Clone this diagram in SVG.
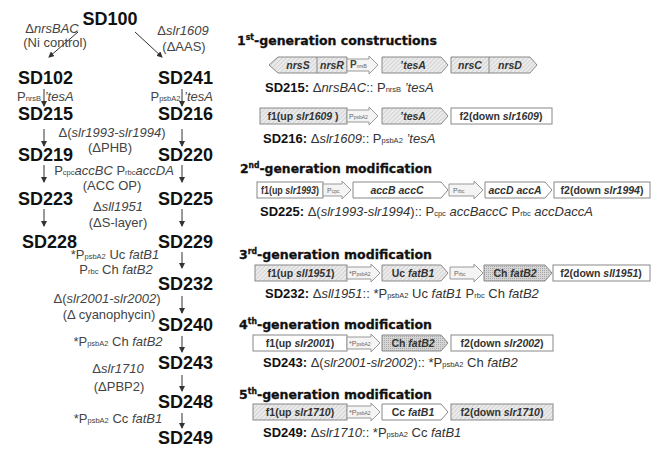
<svg xmlns="http://www.w3.org/2000/svg" width="652" height="449" viewBox="0 0 652 449">
<style>
.sd{font:bold 18px "Liberation Sans",Arial,sans-serif;fill:#111}
.ann{font:13px "Liberation Sans",Arial,sans-serif;fill:#444}
.hdr{font:bold 13px "DejaVu Sans",sans-serif;fill:#111;stroke:#111;stroke-width:0.3}
.cap{font:13px "Liberation Sans",Arial,sans-serif;fill:#333}
.capb{font-weight:bold;fill:#111}
.lbl{font:bold 10.5px "Liberation Sans",Arial,sans-serif;fill:#333;text-anchor:middle}
.pl{font:7px "Liberation Sans",Arial,sans-serif;fill:#666}
.sub{font-size:7.5px}
.i{font-style:italic}
.box{stroke:#888;stroke-width:1}
.wh{fill:#fff}
.ht{fill:url(#hatch)}
.dt{fill:url(#dots)}
.pr{fill:#f4f4f4;stroke:#999;stroke-width:1}
.con{stroke:#333;stroke-width:1;fill:none;marker-end:url(#ah)}
</style>
<defs>
<pattern id="hatch" width="3" height="3" patternUnits="userSpaceOnUse" patternTransform="rotate(45)">
<rect width="3" height="3" fill="#ececec"/>
<line x1="0" y1="0" x2="0" y2="3" stroke="#b8b8b8" stroke-width="1"/>
</pattern>
<pattern id="dots" width="2" height="2" patternUnits="userSpaceOnUse">
<rect width="2" height="2" fill="#d6d6d6"/>
<rect width="1" height="1" fill="#a8a8a8"/>
</pattern>
<marker id="ah" markerWidth="6" markerHeight="6" refX="5" refY="3" orient="auto" markerUnits="userSpaceOnUse">
<path d="M0,0 L6,3 L0,6 Z" fill="#333"/>
</marker>
</defs>

<g id="connectors">
<line class="con" x1="78" y1="32" x2="49" y2="57"/>
<line class="con" x1="135" y1="32" x2="162" y2="57"/>
<line class="con" x1="44" y1="89" x2="44" y2="106"/>
<line class="con" x1="182" y1="89" x2="182" y2="106"/>
<line class="con" x1="44" y1="129" x2="44" y2="146"/>
<line class="con" x1="182" y1="129" x2="182" y2="146"/>
<line class="con" x1="44" y1="165" x2="44" y2="182"/>
<line class="con" x1="182" y1="165" x2="182" y2="182"/>
<line class="con" x1="44" y1="209" x2="44" y2="226"/>
<line class="con" x1="182" y1="209" x2="182" y2="226"/>
<line class="con" x1="182" y1="252" x2="182" y2="268"/>
<line class="con" x1="182" y1="296" x2="182" y2="313"/>
<line class="con" x1="182" y1="336" x2="182" y2="352"/>
<line class="con" x1="182" y1="375" x2="182" y2="391"/>
<line class="con" x1="182" y1="413" x2="182" y2="428"/>
</g>

<g id="SD100"><text class="sd" x="110" y="25" text-anchor="middle">SD100</text></g>
<g id="SD102"><text class="sd" x="18" y="84">SD102</text></g>
<g id="SD241"><text class="sd" x="213" y="84" text-anchor="end">SD241</text></g>
<g id="SD215"><text class="sd" x="18" y="120">SD215</text></g>
<g id="SD216"><text class="sd" x="213" y="120" text-anchor="end">SD216</text></g>
<g id="SD219"><text class="sd" x="18" y="161">SD219</text></g>
<g id="SD220"><text class="sd" x="213" y="161" text-anchor="end">SD220</text></g>
<g id="SD223"><text class="sd" x="18" y="205">SD223</text></g>
<g id="SD225"><text class="sd" x="213" y="205" text-anchor="end">SD225</text></g>
<g id="SD228"><text class="sd" x="22" y="248">SD228</text></g>
<g id="SD229"><text class="sd" x="213" y="248" text-anchor="end">SD229</text></g>
<g id="SD232"><text class="sd" x="213" y="290" text-anchor="end">SD232</text></g>
<g id="SD240"><text class="sd" x="213" y="331" text-anchor="end">SD240</text></g>
<g id="SD243"><text class="sd" x="213" y="369" text-anchor="end">SD243</text></g>
<g id="SD248"><text class="sd" x="213" y="408" text-anchor="end">SD248</text></g>
<g id="SD249"><text class="sd" x="213" y="444" text-anchor="end">SD249</text></g>

<g id="left-labels" text-anchor="middle">
<text class="ann" x="52" y="33">Δ<tspan class="i">nrsBAC</tspan></text>
<text class="ann" x="55" y="47">(Ni control)</text>
<text class="ann" x="183" y="35">Δ<tspan class="i">slr1609</tspan></text>
<text class="ann" x="184" y="51">(ΔAAS)</text>
<text class="ann" x="17" y="101" text-anchor="start">P<tspan class="sub">nrsB</tspan> <tspan class="i">’tesA</tspan></text>
<text class="ann" x="213" y="101" text-anchor="end">P<tspan class="sub">psbA2</tspan> <tspan class="i">’tesA</tspan></text>
<text class="ann" x="112" y="137">Δ(<tspan class="i">slr1993-slr1994</tspan>)</text>
<text class="ann" x="110" y="152">(ΔPHB)</text>
<text class="ann" x="114" y="175">P<tspan class="sub">cpc</tspan><tspan class="i">accBC</tspan> P<tspan class="sub">rbc</tspan><tspan class="i">accDA</tspan></text>
<text class="ann" x="112" y="190">(ACC OP)</text>
<text class="ann" x="118" y="211">Δ<tspan class="i">sll1951</tspan></text>
<text class="ann" x="118" y="227">(ΔS-layer)</text>
<text class="ann" x="115" y="259">*P<tspan class="sub">psbA2</tspan> Uc <tspan class="i">fatB1</tspan></text>
<text class="ann" x="116" y="274">P<tspan class="sub">rbc</tspan> Ch <tspan class="i">fatB2</tspan></text>
<text class="ann" x="107" y="303">Δ(<tspan class="i">slr2001-slr2002</tspan>)</text>
<text class="ann" x="109" y="319">(Δ cyanophycin)</text>
<text class="ann" x="118" y="346">*P<tspan class="sub">psbA2</tspan> Ch <tspan class="i">fatB2</tspan></text>
<text class="ann" x="118" y="373">Δ<tspan class="i">slr1710</tspan></text>
<text class="ann" x="119" y="391">(ΔPBP2)</text>
<text class="ann" x="118" y="423">*P<tspan class="sub">psbA2</tspan> Cc <tspan class="i">fatB1</tspan></text>
</g>

<g id="headers">
<text class="hdr" x="237" y="45" textLength="200" lengthAdjust="spacingAndGlyphs">1<tspan font-size="8" dy="-5">st</tspan><tspan dy="5">-generation constructions</tspan></text>
<text class="hdr" x="240" y="173" textLength="192" lengthAdjust="spacingAndGlyphs">2<tspan font-size="8" dy="-5">nd</tspan><tspan dy="5">-generation modification</tspan></text>
<text class="hdr" x="239" y="259" textLength="193" lengthAdjust="spacingAndGlyphs">3<tspan font-size="8" dy="-5">rd</tspan><tspan dy="5">-generation modification</tspan></text>
<text class="hdr" x="239" y="329" textLength="193" lengthAdjust="spacingAndGlyphs">4<tspan font-size="8" dy="-5">th</tspan><tspan dy="5">-generation modification</tspan></text>
<text class="hdr" x="239" y="399" textLength="193" lengthAdjust="spacingAndGlyphs">5<tspan font-size="8" dy="-5">th</tspan><tspan dy="5">-generation modification</tspan></text>
</g>

<g id="construct-SD215">
<polygon class="box ht" points="269,65 278,57 347,57 347,73 278,73"/>
<line class="box" x1="317" y1="57" x2="317" y2="73"/>
<text class="lbl i" x="298" y="69">nrsS</text>
<text class="lbl i" x="332" y="69">nrsR</text>
<polygon class="pr" points="347,59 369,59 369,56 378,65 369,74 369,71 347,71"/>
<text class="pl" x="350" y="68"><tspan font-size="10" font-weight="bold" fill="#444">P</tspan><tspan font-size="5">nrsB</tspan></text>
<polygon class="box ht" points="382,57 441,57 448,65 441,73 382,73"/>
<text class="lbl i" x="413" y="69">’tesA</text>
<polygon class="box ht" points="451,57 530,57 537,65 530,73 451,73"/>
<line class="box" x1="489" y1="57" x2="489" y2="73"/>
<text class="lbl i" x="470" y="69">nrsC</text>
<text class="lbl i" x="510" y="69">nrsD</text>
<text class="cap" x="265" y="92"><tspan class="capb">SD215:</tspan> Δ<tspan class="i">nrsBAC</tspan>:: P<tspan class="sub">nrsB</tspan> <tspan class="i">’tesA</tspan></text>
</g>

<g id="construct-SD216">
<rect class="box ht" x="260" y="108" width="87" height="16"/>
<text class="lbl" x="303" y="120">f1(up <tspan class="i">slr1609</tspan> )</text>
<polygon class="pr" points="347,110 369,110 369,107 378,116 369,125 369,122 347,122"/>
<text class="pl" x="349" y="119">P<tspan font-size="5">psbA2</tspan></text>
<polygon class="box ht" points="382,108 441,108 448,116 441,124 382,124"/>
<text class="lbl i" x="413" y="120">’tesA</text>
<rect class="box wh" x="451" y="108" width="101" height="16"/>
<text class="lbl" x="501" y="120">f2(down <tspan class="i">slr1609</tspan>)</text>
<text class="cap" x="263" y="143"><tspan class="capb">SD216:</tspan> Δ<tspan class="i">slr1609</tspan>:: P<tspan class="sub">psbA2</tspan> <tspan class="i">’tesA</tspan></text>
</g>

<g id="construct-SD225">
<rect class="box wh" x="257" y="182" width="66" height="16"/>
<text class="lbl" x="290" y="194" textLength="58" lengthAdjust="spacingAndGlyphs">f1(up <tspan class="i">slr1993</tspan>)</text>
<polygon class="pr" points="323,184 342,184 342,181 351,190 342,199 342,196 323,196"/>
<text class="pl" x="327" y="193">P<tspan font-size="5">cpc</tspan></text>
<polygon class="box wh" points="353,182 441,182 448,190 441,198 353,198"/>
<text class="lbl i" x="397" y="194">accB accC</text>
<polygon class="pr" points="449,184 474,184 474,181 483,190 474,199 474,196 449,196"/>
<text class="pl" x="453" y="193">P<tspan font-size="5">rbc</tspan></text>
<polygon class="box wh" points="485,182 545,182 552,190 545,198 485,198"/>
<text class="lbl i" x="515" y="194">accD accA</text>
<rect class="box wh" x="554" y="182" width="96" height="16"/>
<text class="lbl" x="602" y="194">f2(down <tspan class="i">slr1994</tspan>)</text>
<text class="cap" x="260" y="216"><tspan class="capb">SD225:</tspan> Δ(<tspan class="i">slr1993-slr1994</tspan>):: P<tspan class="sub">cpc</tspan> <tspan class="i">accBaccC</tspan> P<tspan class="sub">rbc</tspan> <tspan class="i">accDaccA</tspan></text>
</g>

<g id="construct-SD232">
<rect class="box ht" x="255" y="265" width="92" height="16"/>
<text class="lbl" x="301" y="277">f1(up <tspan class="i">sll1951</tspan>)</text>
<polygon class="pr" points="347,267 371,267 371,264 380,273 371,282 371,279 347,279"/>
<text class="pl" x="349" y="276">*P<tspan font-size="5">psbA2</tspan></text>
<polygon class="box ht" points="382,265 441,265 448,273 441,281 382,281"/>
<text class="lbl" x="413" y="277">Uc <tspan class="i">fatB1</tspan></text>
<polygon class="pr" points="450,267 474,267 474,264 483,273 474,282 474,279 450,279"/>
<text class="pl" x="454" y="276">P<tspan font-size="5">rbc</tspan></text>
<polygon class="box dt" points="484,265 545,265 552,273 545,281 484,281"/>
<text class="lbl" x="515" y="277">Ch <tspan class="i">fatB2</tspan></text>
<rect class="box wh" x="553" y="265" width="97" height="16"/>
<text class="lbl" x="601" y="277">f2(down <tspan class="i">sll1951</tspan>)</text>
<text class="cap" x="265" y="298"><tspan class="capb">SD232:</tspan> Δ<tspan class="i">sll1951</tspan>:: *P<tspan class="sub">psbA2</tspan> Uc <tspan class="i">fatB1</tspan> P<tspan class="sub">rbc</tspan> Ch <tspan class="i">fatB2</tspan></text>
</g>

<g id="construct-SD243">
<rect class="box wh" x="253" y="335" width="94" height="16"/>
<text class="lbl" x="300" y="347">f1(up <tspan class="i">slr2001</tspan>)</text>
<polygon class="pr" points="347,337 371,337 371,334 380,343 371,352 371,349 347,349"/>
<text class="pl" x="349" y="346">*P<tspan font-size="5">psbA2</tspan></text>
<polygon class="box dt" points="382,335 441,335 448,343 441,351 382,351"/>
<text class="lbl" x="413" y="347">Ch <tspan class="i">fatB2</tspan></text>
<rect class="box wh" x="451" y="335" width="102" height="16"/>
<text class="lbl" x="502" y="347">f2(down <tspan class="i">slr2002</tspan>)</text>
<text class="cap" x="263" y="367"><tspan class="capb">SD243:</tspan> Δ(<tspan class="i">slr2001-slr2002</tspan>):: *P<tspan class="sub">psbA2</tspan> Ch <tspan class="i">fatB2</tspan></text>
</g>

<g id="construct-SD249">
<rect class="box ht" x="253" y="404" width="94" height="16"/>
<text class="lbl" x="300" y="416">f1(up <tspan class="i">slr1710</tspan>)</text>
<polygon class="pr" points="347,406 371,406 371,403 380,412 371,421 371,418 347,418"/>
<text class="pl" x="349" y="415">*P<tspan font-size="5">psbA2</tspan></text>
<polygon class="box wh" points="382,404 441,404 448,412 441,420 382,420"/>
<text class="lbl" x="413" y="416">Cc <tspan class="i">fatB1</tspan></text>
<rect class="box ht" x="451" y="404" width="102" height="16"/>
<text class="lbl" x="502" y="416">f2(down <tspan class="i">slr1710</tspan>)</text>
<text class="cap" x="263" y="437"><tspan class="capb">SD249:</tspan> Δ<tspan class="i">slr1710</tspan>:: *P<tspan class="sub">psbA2</tspan> Cc <tspan class="i">fatB1</tspan></text>
</g>
</svg>
